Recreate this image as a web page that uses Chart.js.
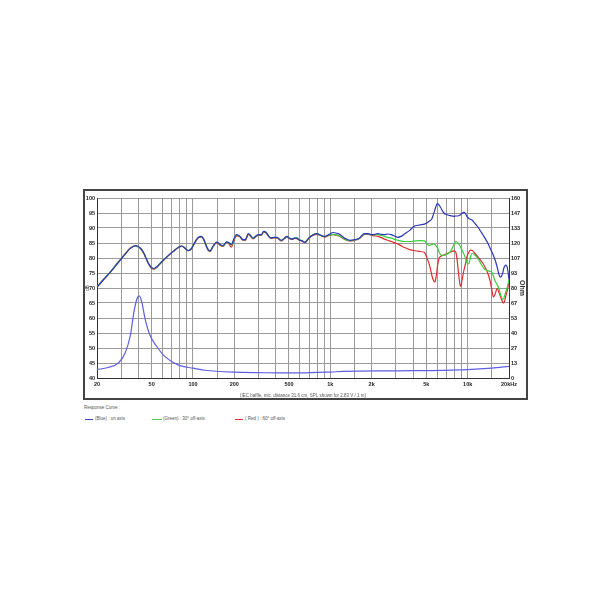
<!DOCTYPE html>
<html><head><meta charset="utf-8">
<script src="https://cdn.jsdelivr.net/npm/chart.js@4.4.1/dist/chart.umd.min.js"></script>
<style>
html,body{margin:0;padding:0;background:#fff;}
body{width:610px;height:610px;position:relative;overflow:hidden;font-family:"Liberation Sans",Arial,sans-serif;}
#frame{position:absolute;left:83px;top:189px;width:441px;height:207px;border:2px solid #444;}
#c{display:block;}
.note{position:absolute;font-size:4.5px;line-height:6px;color:#555;white-space:nowrap;}
.sw{position:absolute;height:0;border-top:1px solid;}
</style></head><body>
<div id="frame"><canvas id="c" width="441" height="207"></canvas></div>
<div class="note" style="left:84px;top:405px">Response Curve :</div>
<div class="sw" style="left:85px;top:419px;width:8px;border-color:#3a46b8"></div>
<div class="note" style="left:95px;top:416px">(Blue) : on axis</div>
<div class="sw" style="left:152px;top:419px;width:10px;border-color:#4ccc4c"></div>
<div class="note" style="left:163px;top:416px">(Green) : 30° off-axis</div>
<div class="sw" style="left:235px;top:419px;width:8px;border-color:#dd3333"></div>
<div class="note" style="left:245px;top:416px">( Red ) : 60° off-axis</div>
<script>
// ---- data ----
const freqs = [20,22,25,28,32,35,38,40,42,44,46,48,50,52,55,60,66,72,78,83,88,92,97,102,108,114,119,124,129,133,140,149,157,165,176,183,190,199,207,220,230,240,253,265,274,290,300,315,327,340,355,370,390,410,440,465,483,505,525,550,570,595,618,655,685,711,750,796,865,914,966,1050,1120,1175,1275,1385,1500,1630,1700,1775,1880,1985,2100,2220,2350,2480,2620,2780,3000,3100,3300,3470,3800,4050,4450,4850,5100,5220,5350,5500,5600,5750,5800,5950,6040,6200,6340,6710,7100,7500,7960,8190,8400,8600,8800,8900,9100,9350,9640,9900,10200,10500,10800,11300,11800,12400,13000,13300,14000,14600,15000,15400,15800,16400,16900,17300,18000,18300,19000,19500,20000];

const splBlue = [70.3,72.5,75.3,78.0,81.2,83.2,84.1,83.8,83.0,81.5,79.5,77.8,76.8,76.5,77.3,79.0,80.8,82.3,83.5,84.0,83.2,82.5,83.0,84.8,86.6,87.2,86.5,84.5,82.8,82.4,84.0,85.3,84.6,84.1,85.4,85.1,84.5,86.5,87.8,87.2,86.2,86.1,88.1,87.3,86.6,87.5,87.8,87.8,88.9,88.6,87.4,86.7,86.9,86.9,85.9,86.7,87.2,86.6,86.3,86.6,86.6,86.0,85.8,85.2,86.2,87.0,87.7,88.1,87.5,87.2,87.7,88.5,88.2,87.8,86.6,85.9,86.1,86.6,87.5,88.1,88.1,87.8,87.9,88.1,87.9,87.8,88.0,87.8,87.1,86.9,87.3,88.0,89.3,90.5,91.0,91.3,91.8,92.2,92.5,93.2,94.2,95.8,96.4,97.8,98.1,97.6,96.9,95.0,94.4,94.1,93.9,94.0,94.0,94.1,94.3,94.5,94.9,95.2,94.8,93.8,93.2,92.9,92.6,91.5,90.5,89.0,87.5,86.8,85.0,83.2,82.0,80.8,79.5,77.0,74.5,73.6,75.0,76.5,77.6,76.5,72.8];

const splGreen = [70.4,72.6,75.4,78.1,81.3,83.2,84.0,83.7,82.9,81.4,79.4,77.7,76.7,76.4,77.2,79.0,80.8,82.3,83.5,84.0,83.2,82.5,83.0,84.8,86.6,87.1,86.4,84.4,82.7,82.3,83.9,85.2,84.5,84.0,85.3,85.0,84.3,86.3,87.6,87.1,86.1,86.0,88.0,87.2,86.5,87.4,87.7,87.7,88.8,88.5,87.3,86.6,86.9,86.8,85.8,86.7,87.1,86.6,86.3,86.7,86.7,86.1,85.9,85.3,86.3,87.1,87.8,88.1,87.4,87.1,87.5,87.9,87.6,87.3,86.3,85.8,86.0,86.6,87.4,88.0,88.0,87.8,87.8,87.8,87.5,87.2,86.9,86.6,86.1,85.9,85.6,85.5,85.5,85.6,85.8,85.7,84.6,84.2,84.3,84.5,84.7,84.6,84.4,83.8,83.3,82.0,81.1,80.9,81.3,82.2,84.5,85.5,85.3,84.7,84.0,83.5,82.5,81.5,80.0,78.5,78.0,80.5,81.5,81.0,80.0,78.3,76.8,76.2,75.8,75.5,75.2,74.0,72.5,71.1,69.8,68.0,66.3,66.5,68.9,70.5,72.8];

const splRed = [70.2,72.4,75.3,78.2,81.4,83.3,84.0,83.7,82.8,81.3,79.3,77.6,76.5,76.3,77.0,78.9,80.7,82.2,83.4,83.9,83.1,82.4,83.0,84.7,86.5,87.0,86.3,84.3,82.5,82.1,83.7,85.0,84.3,83.9,85.2,84.7,83.6,85.8,87.4,87.0,85.9,85.8,87.8,87.0,86.4,87.3,87.5,87.6,88.6,88.3,87.2,86.5,86.7,86.6,85.7,86.5,87.0,86.4,86.2,86.5,86.4,85.9,85.7,85.1,86.1,86.9,87.6,87.9,87.3,87.0,87.4,87.8,87.5,87.2,86.2,85.7,85.9,86.5,87.3,87.9,87.9,87.6,87.4,87.2,86.8,86.3,85.9,85.5,84.9,84.7,84.0,83.5,82.8,82.5,82.2,81.8,79.5,78.3,76.5,74.0,72.8,72.0,72.2,75.0,77.5,80.0,80.5,81.0,81.5,82.0,82.4,82.0,79.0,74.5,71.0,70.5,72.5,75.5,78.0,80.5,82.0,82.6,82.5,81.5,80.5,79.3,78.0,77.2,75.0,72.2,69.5,67.0,67.8,69.8,68.5,67.2,65.3,65.0,67.5,69.5,72.0];

const impFreqs = [20,24,28.6,32,35,37.2,39,40.6,42.3,44.7,48.6,54.5,62.5,78,100,122,200,400,600,1000,1240,3200,9900,15000,20000];
const impOhm   = [7.5,9.3,13.3,22,38,59,70,73,68,53,38,28,19,11.7,8.7,6.9,5.2,4.6,4.5,5.3,5.9,6.4,7.5,8.8,10.4];

const gridFreqs = [20,30,40,50,60,70,80,90,100,150,200,300,400,500,600,700,800,900,1000,1500,2000,3000,4000,5000,6000,7000,8000,9000,10000,15000,20000];
const freqLabels = {20:'20',50:'50',100:'100',200:'200',500:'500',1000:'1k',2000:'2k',5000:'5k',10000:'10k',20000:'20kHz'};
const ohmLabels = ['0','13','27','40','53','67','80','93','107','120','133','147','160'];
const xTitle = '(IEC baffle, mic. distance 31.6 cm, SPL shown for 2.83 V / 1 m)';

const pts = (xs, ys) => xs.map((x, i) => ({x: x, y: ys[i]}));
const lineDs = (label, xs, ys, color, axis, order) => ({
  label, data: pts(xs, ys), borderColor: color, borderWidth: 1.2, pointRadius: 0,
  showLine: true, fill: false, cubicInterpolationMode: 'monotone', yAxisID: axis, order
});

const tickFont = {family: '"Liberation Sans", Arial, sans-serif', size: 5.5, weight: 'bold'};

new Chart(document.getElementById('c'), {
  type: 'scatter',
  data: {
    datasets: [
      lineDs('(Blue) : on axis', freqs, splBlue, 'rgb(45,55,185)', 'y', 0),
      lineDs('(Green) : 30° off-axis', freqs, splGreen, 'rgb(60,205,60)', 'y', 1),
      lineDs('( Red ) : 60° off-axis', freqs, splRed, 'rgb(220,45,45)', 'y', 2),
      lineDs('Impedance', impFreqs, impOhm, 'rgb(95,95,225)', 'y1', 3)
    ]
  },
  options: {
    responsive: false, animation: false, devicePixelRatio: 1,
    layout: {padding: {top: 7, left: 0, right: 0, bottom: 0}},
    plugins: {legend: {display: false}, tooltip: {enabled: false}},
    scales: {
      x: {
        type: 'logarithmic', min: 20, max: 20000,
        afterBuildTicks: s => { s.ticks = gridFreqs.map(v => ({value: v})); },
        afterFit: s => { s.height = 20; },
        ticks: {autoSkip: false, maxRotation: 0, minRotation: 0, padding: 3, color: '#222', font: tickFont,
                callback: v => freqLabels[v] || ''},
        grid: {color: '#9a9a9a', lineWidth: 1, drawTicks: false},
        border: {color: '#333', width: 1},
        title: {display: true, text: xTitle, color: '#555', font: {family: '"Liberation Sans", Arial, sans-serif', size: 4.5}, padding: {top: 0, bottom: 0}}
      },
      y: {
        position: 'left', min: 40, max: 100,
        afterFit: s => { s.width = 12; },
        ticks: {stepSize: 5, padding: 2, color: '#222', font: tickFont},
        grid: {color: '#9a9a9a', lineWidth: 1, drawTicks: false},
        border: {color: '#333', width: 1},
        title: {display: true, text: 'dB', color: '#333', font: {family: '"Liberation Sans", Arial, sans-serif', size: 4.5}, padding: {top: 0, bottom: 0}}
      },
      y1: {
        position: 'right', min: 0, max: 160,
        afterBuildTicks: s => { s.ticks = ohmLabels.map((t, i) => ({value: i * 160 / 12})); },
        afterFit: s => { s.width = 17; },
        ticks: {padding: 2, color: '#222', font: tickFont, callback: (v, i) => ohmLabels[i]},
        grid: {display: false, drawTicks: false},
        border: {color: '#333', width: 1},
        title: {display: true, text: 'Ohm', color: '#333', font: {family: '"Liberation Sans", Arial, sans-serif', size: 7, weight: 'bold'}, padding: {top: 0, bottom: 0}}
      }
    }
  }
});
</script>
</body></html>
